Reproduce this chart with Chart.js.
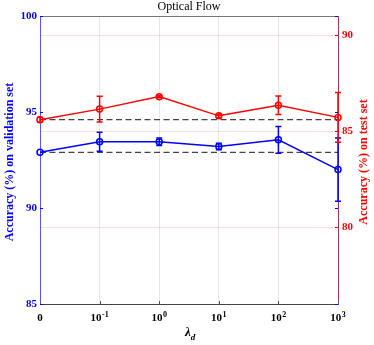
<!DOCTYPE html>
<html>
<head>
<meta charset="utf-8">
<script src="https://cdn.jsdelivr.net/npm/chart.js@4"></script>
<style>
  html, body { margin: 0; padding: 0; background: #fff; }
  #wrap { width: 374px; height: 345px; }
</style>
</head>
<body>
<div id="wrap"><canvas id="flowChart" width="374" height="345"></canvas></div>
<script>
const lambdas = ['0', '10^-1', '10^0', '10^1', '10^2', '10^3'];
const tickBase = ['0', '10', '10', '10', '10', '10'];
const tickExp = ['', '-1', '0', '1', '2', '3'];

const valAcc = [92.9, 93.45, 93.45, 93.2, 93.55, 92.0];
const valErr = [0, 0.5, 0.2, 0.17, 0.7, 1.65];
const testAcc = [85.6, 86.15, 86.8, 85.8, 86.35, 85.72];
const testErr = [0.13, 0.67, 0.06, 0.1, 0.48, 1.3];

const valTicks = [85, 90, 95, 100];
const testTicks = [80, 85, 90];

const SERIF = 'Liberation Serif';
const BLUE = '#0000ff';
const RED = '#ff0000';

// error bars, titles and the odd tick labels are drawn by hand
const extras = {
  id: 'extras',
  afterDatasetsDraw(chart) {
    const ctx = chart.ctx;
    const x = chart.scales.x;
    const sets = [
      { vals: valAcc, errs: valErr, scale: chart.scales.y, color: BLUE },
      { vals: testAcc, errs: testErr, scale: chart.scales.y1, color: RED }
    ];
    ctx.save();
    ctx.lineWidth = 1.5;
    sets.forEach(s => {
      ctx.strokeStyle = s.color;
      s.vals.forEach((v, i) => {
        if (!s.errs[i]) return;
        const px = x.getPixelForValue(i);
        const top = s.scale.getPixelForValue(v + s.errs[i]);
        const bot = s.scale.getPixelForValue(v - s.errs[i]);
        ctx.beginPath();
        ctx.moveTo(px, top); ctx.lineTo(px, bot);
        ctx.moveTo(px - 3, top); ctx.lineTo(px + 3, top);
        ctx.moveTo(px - 3, bot); ctx.lineTo(px + 3, bot);
        ctx.stroke();
      });
    });
    ctx.restore();
  },
  afterDraw(chart) {
    const ctx = chart.ctx;
    const area = chart.chartArea;
    const x = chart.scales.x;
    const y = chart.scales.y;
    const y1 = chart.scales.y1;
    ctx.save();

    // top box line
    ctx.strokeStyle = '#777';
    ctx.lineWidth = 1;
    ctx.beginPath();
    ctx.moveTo(area.left, area.top + 0.5);
    ctx.lineTo(area.right, area.top + 0.5);
    ctx.stroke();

    // inward ticks
    ctx.strokeStyle = '#555';
    lambdas.forEach((_, i) => {
      const px = Math.round(x.getPixelForValue(i)) + 0.5;
      ctx.beginPath();
      ctx.moveTo(px, area.bottom); ctx.lineTo(px, area.bottom - 3);
      ctx.stroke();
    });
    ctx.strokeStyle = BLUE;
    valTicks.forEach(v => {
      const py = Math.round(y.getPixelForValue(v)) + 0.5;
      ctx.beginPath();
      ctx.moveTo(area.left, py); ctx.lineTo(area.left + 3, py);
      ctx.moveTo(area.right, py); ctx.lineTo(area.right - 3, py);
      ctx.stroke();
    });
    ctx.strokeStyle = RED;
    testTicks.forEach(v => {
      const py = Math.round(y1.getPixelForValue(v)) + 0.5;
      ctx.beginPath();
      ctx.moveTo(area.right, py); ctx.lineTo(area.right - 3, py);
      ctx.stroke();
    });

    // x tick labels with exponents
    ctx.fillStyle = '#000';
    ctx.textBaseline = 'alphabetic';
    ctx.textAlign = 'left';
    tickBase.forEach((b, i) => {
      const px = x.getPixelForValue(i);
      ctx.font = 'bold 11px "' + SERIF + '"';
      const bw = ctx.measureText(b).width;
      ctx.font = 'bold 8px "' + SERIF + '"';
      const ew = tickExp[i] ? ctx.measureText(tickExp[i]).width + 0.5 : 0;
      const start = px - (bw + ew) / 2;
      ctx.font = 'bold 11px "' + SERIF + '"';
      ctx.fillText(b, start, 321);
      if (tickExp[i]) {
        ctx.font = 'bold 8px "' + SERIF + '"';
        ctx.fillText(tickExp[i], start + bw + 0.5, 317);
      }
    });

    // x axis title: lambda_d
    const cx = (area.left + area.right) / 2;
    ctx.font = 'bold italic 13px "' + SERIF + '"';
    const lw = ctx.measureText('\u03bb').width;
    ctx.fillText('\u03bb', cx - 4, 336);
    ctx.font = 'bold italic 9px "' + SERIF + '"';
    ctx.fillText('d', cx - 4 + lw, 340);

    // chart title
    ctx.font = '12px "' + SERIF + '"';
    ctx.textAlign = 'center';
    ctx.textBaseline = 'middle';
    ctx.fillText('Optical Flow', cx, 7);

    // y axis titles, both read bottom to top
    const cy = (area.top + area.bottom) / 2 + 2;
    ctx.font = 'bold 12px "' + SERIF + '"';
    ctx.fillStyle = BLUE;
    ctx.save();
    ctx.translate(10, cy);
    ctx.rotate(-Math.PI / 2);
    ctx.fillText('Accuracy (%) on validation set', 0, 0);
    ctx.restore();
    ctx.fillStyle = RED;
    ctx.save();
    ctx.translate(364, cy);
    ctx.rotate(-Math.PI / 2);
    ctx.fillText('Accuracy (%) on test set', 0, 0);
    ctx.restore();

    ctx.restore();
  }
};

const ctx = document.getElementById('flowChart').getContext('2d');
const chart = new Chart(ctx, {
  type: 'line',
  data: {
    labels: lambdas,
    datasets: [
      {
        label: 'validation',
        data: valAcc,
        yAxisID: 'y',
        borderColor: BLUE,
        borderWidth: 1.5,
        pointStyle: 'circle',
        pointRadius: 3,
        pointBorderWidth: 1.5,
        pointBorderColor: BLUE,
        pointBackgroundColor: 'rgba(0,0,0,0)',
        tension: 0
      },
      {
        label: 'test',
        data: testAcc,
        yAxisID: 'y1',
        borderColor: RED,
        borderWidth: 1.5,
        pointRadius: 3,
        pointBorderWidth: 1.5,
        pointBorderColor: RED,
        pointBackgroundColor: 'rgba(0,0,0,0)',
        tension: 0
      },
      {
        label: 'validation baseline',
        data: lambdas.map(() => valAcc[0]),
        yAxisID: 'y',
        borderColor: '#444',
        borderWidth: 1.3,
        borderDash: [6, 3.5],
        pointRadius: 0
      },
      {
        label: 'test baseline',
        data: lambdas.map(() => testAcc[0]),
        yAxisID: 'y1',
        borderColor: '#444',
        borderWidth: 1.3,
        borderDash: [6, 3.5],
        pointRadius: 0
      }
    ]
  },
  options: {
    responsive: false,
    animation: false,
    layout: { padding: { top: 16, left: 0, right: 0, bottom: 0 } },
    plugins: {
      legend: { display: false },
      tooltip: { enabled: false }
    },
    scales: {
      x: {
        type: 'category',
        offset: false,
        grid: { color: '#e6e6e6', drawTicks: false },
        border: { color: '#444', width: 1 },
        ticks: { display: false },
        afterFit(scale) { scale.height = 41; }
      },
      y: {
        type: 'linear',
        position: 'left',
        min: 85,
        max: 100,
        afterBuildTicks(scale) { scale.ticks = valTicks.map(v => ({ value: v })); },
        grid: { display: false, drawTicks: false },
        border: { color: '#5555ff', width: 1 },
        ticks: {
          color: BLUE,
          padding: 3,
          font: { family: SERIF, size: 11, weight: 'bold' }
        },
        afterFit(scale) { scale.width = 40; }
      },
      y1: {
        type: 'linear',
        position: 'right',
        min: 76,
        max: 91,
        afterBuildTicks(scale) { scale.ticks = testTicks.map(v => ({ value: v })); },
        grid: { color: 'rgba(255,0,0,0.13)', drawTicks: false },
        border: { color: 'rgb(170,50,90)', width: 1 },
        ticks: {
          color: RED,
          padding: 4,
          font: { family: SERIF, size: 11, weight: 'bold' }
        },
        afterFit(scale) { scale.width = 36; }
      }
    }
  },
  plugins: [extras]
});
</script>
</body>
</html>
